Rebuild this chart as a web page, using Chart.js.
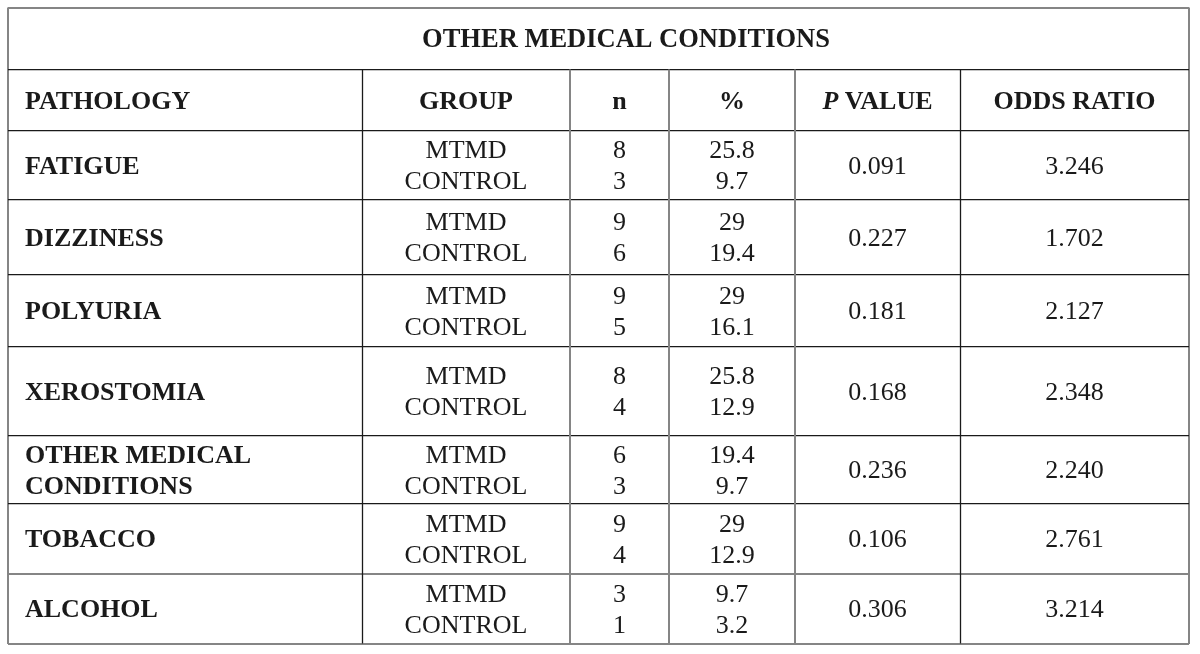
<!DOCTYPE html>
<html>
<head>
<meta charset="utf-8">
<script src="https://cdn.jsdelivr.net/npm/chart.js@4.4.1/dist/chart.umd.min.js"></script>
<style>
  html, body { margin: 0; padding: 0; background: #fff; }
  #wrap { width: 1200px; height: 654px; position: relative; }
</style>
</head>
<body>
<div id="wrap"><canvas id="tableChart"></canvas></div>
<script>
const tableTitle = 'OTHER MEDICAL CONDITIONS';
const headers = ['PATHOLOGY', 'GROUP', 'n', '%', 'P VALUE', 'ODDS RATIO'];
const pathologies = ['FATIGUE', 'DIZZINESS', 'POLYURIA', 'XEROSTOMIA', 'OTHER MEDICAL\nCONDITIONS', 'TOBACCO', 'ALCOHOL'];
const groups = ['MTMD', 'CONTROL'];
const nMtmd = [8, 9, 9, 8, 6, 9, 3];
const nControl = [3, 6, 5, 4, 3, 4, 1];
const pctMtmd = [25.8, 29, 29, 25.8, 19.4, 29, 9.7];
const pctControl = [9.7, 19.4, 16.1, 12.9, 9.7, 12.9, 3.2];
const pValues = [0.091, 0.227, 0.181, 0.168, 0.236, 0.106, 0.306];
const oddsRatios = [3.246, 1.702, 2.127, 2.348, 2.240, 2.761, 3.214];

// table layout in table units (origin = top-left corner of the frame)
const colEdges = [0, 354, 562, 661, 787, 952, 1181];
const rowEdges = [0, 62, 123.5, 192, 266.8, 339.2, 428.2, 495.8, 566.5, 635.8];
const grayCols = [2, 3, 4];   // scanned rules that look grey
const grayRows = [8];
const pathologyIndent = 17;
const titleCenter = 618;      // the title sits a little right of the frame centre

const FONT = '"Liberation Serif", "Times New Roman", serif';
const FONT_SIZE = 26;
const TITLE_SIZE = 26.5;
const LINE_GAP = 31;
const INK = '#1a1a1a';
const GRAY = '#858585';
const DARK = '#1a1a1a';

const colMid = i => (colEdges[i] + colEdges[i + 1]) / 2;
const rowMid = i => (rowEdges[i] + rowEdges[i + 1]) / 2;
const isOuter = (i, arr) => i === 0 || i === arr.length - 1;

function cellSet(col, texts, opts = {}) {
    return {
        data: texts.map((t, r) => ({ x: opts.left ? colEdges[col] + pathologyIndent : colMid(col), y: rowMid(r + 2) })),
        texts: texts,
        bold: !!opts.bold,
        align: opts.left ? 'left' : 'center',
        pointRadius: 0
    };
}

const datasets = [
    { data: [{ x: titleCenter, y: rowMid(0) }], texts: [[tableTitle]], bold: true, size: TITLE_SIZE, align: 'center', pointRadius: 0 },
    {
        data: headers.map((h, c) => ({ x: c === 0 ? colEdges[0] + pathologyIndent : colMid(c), y: rowMid(1) })),
        texts: headers.map(h => [h]),
        bold: true,
        align: 'center',
        alignFirst: 'left',
        pointRadius: 0
    },
    cellSet(0, pathologies.map(p => p.split('\n')), { bold: true, left: true }),
    cellSet(1, pathologies.map(() => groups)),
    cellSet(2, nMtmd.map((v, i) => [String(v), String(nControl[i])])),
    cellSet(3, pctMtmd.map((v, i) => [String(v), String(pctControl[i])])),
    cellSet(4, pValues.map(v => [v.toFixed(3)])),
    cellSet(5, oddsRatios.map(v => [v.toFixed(3)]))
];

function drawText(ctx, text, x, y, bold, align, size) {
    const weight = bold ? 'bold ' : '';
    // "P VALUE": the P is set in italics
    if (text === 'P VALUE') {
        ctx.font = 'italic bold ' + size + 'px ' + FONT;
        const wP = ctx.measureText('P').width;
        ctx.font = weight + size + 'px ' + FONT;
        const wRest = ctx.measureText(' VALUE').width;
        let x0 = align === 'left' ? x : x - (wP + wRest) / 2;
        ctx.textAlign = 'left';
        ctx.font = 'italic bold ' + size + 'px ' + FONT;
        ctx.fillText('P', x0, y);
        ctx.font = weight + size + 'px ' + FONT;
        ctx.fillText(' VALUE', x0 + wP, y);
        return;
    }
    ctx.font = weight + size + 'px ' + FONT;
    ctx.textAlign = align;
    ctx.fillText(text, x, y);
}

const cellText = {
    id: 'cellText',
    afterDatasetsDraw(chart) {
        const ctx = chart.ctx;
        ctx.save();
        ctx.fillStyle = INK;
        ctx.textBaseline = 'alphabetic';
        chart.data.datasets.forEach((ds, i) => {
            const meta = chart.getDatasetMeta(i);
            const size = ds.size || FONT_SIZE;
            meta.data.forEach((pt, j) => {
                const lines = ds.texts[j];
                const align = (j === 0 && ds.alignFirst) ? ds.alignFirst : ds.align;
                const first = pt.y + size * 0.33 - (lines.length - 1) * LINE_GAP / 2;
                lines.forEach((line, k) => drawText(ctx, line, pt.x, first + k * LINE_GAP, ds.bold, align, size));
            });
        });
        ctx.restore();
    }
};

// inner column rules start below the title row
const columnRules = {
    id: 'columnRules',
    beforeDatasetsDraw(chart) {
        const { ctx, scales: { x, y } } = chart;
        const y0 = y.getPixelForValue(rowEdges[1]);
        const y1 = y.getPixelForValue(rowEdges[rowEdges.length - 1]);
        ctx.save();
        for (let i = 1; i < colEdges.length - 1; i++) {
            const gray = grayCols.includes(i);
            ctx.strokeStyle = gray ? GRAY : DARK;
            ctx.lineWidth = gray ? 2 : 1.3;
            const px = Math.round(x.getPixelForValue(colEdges[i])) + (gray ? 0 : 0.5);
            ctx.beginPath();
            ctx.moveTo(px, y0);
            ctx.lineTo(px, y1);
            ctx.stroke();
        }
        ctx.restore();
    }
};

new Chart(document.getElementById('tableChart'), {
    type: 'scatter',
    data: { datasets: datasets },
    options: {
        responsive: true,
        maintainAspectRatio: false,
        animation: false,
        events: [],
        layout: { padding: { left: 8, top: 7.5, right: 11, bottom: 10.5 } },
        plugins: {
            legend: { display: false },
            tooltip: { enabled: false }
        },
        scales: {
            x: {
                type: 'linear',
                min: colEdges[0],
                max: colEdges[colEdges.length - 1],
                afterBuildTicks: s => { s.ticks = colEdges.map(v => ({ value: v })); },
                ticks: { display: false },
                border: { display: false },
                grid: {
                    drawTicks: false,
                    color: c => isOuter(c.index, colEdges) ? GRAY : 'rgba(0,0,0,0)',
                    lineWidth: 2
                }
            },
            y: {
                type: 'linear',
                reverse: true,
                min: rowEdges[0],
                max: rowEdges[rowEdges.length - 1],
                afterBuildTicks: s => { s.ticks = rowEdges.map(v => ({ value: v })); },
                ticks: { display: false },
                border: { display: false },
                grid: {
                    drawTicks: false,
                    color: c => (isOuter(c.index, rowEdges) || grayRows.includes(c.index)) ? GRAY : DARK,
                    lineWidth: c => (isOuter(c.index, rowEdges) || grayRows.includes(c.index)) ? 2 : 1.3
                }
            }
        }
    },
    plugins: [columnRules, cellText]
});
</script>
</body>
</html>
